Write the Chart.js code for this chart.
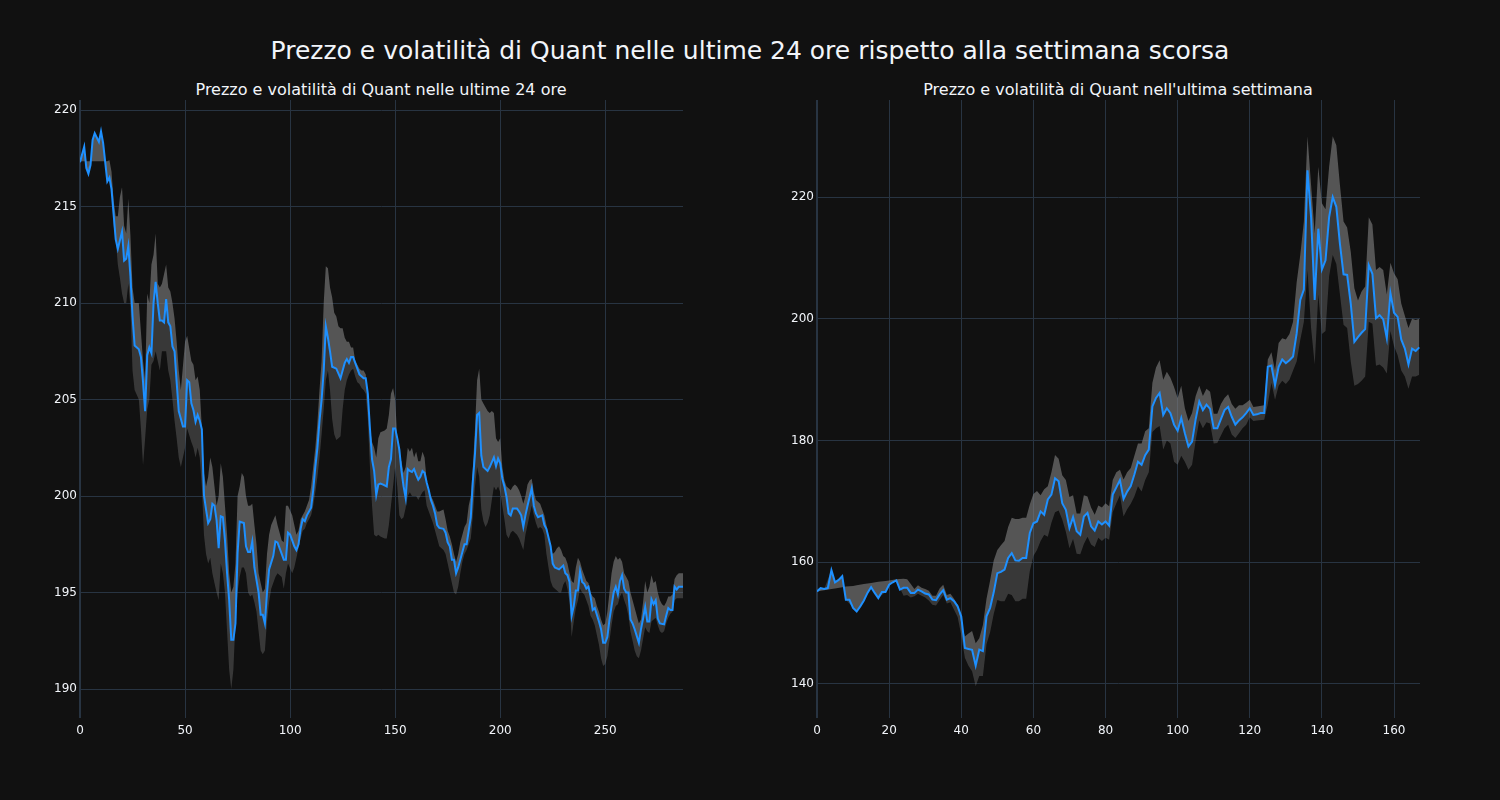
<!DOCTYPE html>
<html>
<head>
<meta charset="utf-8">
<title>Prezzo e volatilità di Quant</title>
<script src="https://cdn.jsdelivr.net/npm/chart.js@4.4.1/dist/chart.umd.min.js"></script>
<style>
  body { margin: 0; background: #111111; }
  #wrap { position: relative; width: 1500px; height: 800px; background: #111111; font-family: "DejaVu Sans", sans-serif; color: #f2f5fa; }
  canvas { position: absolute; top: 0; }
  .title { position: absolute; transform: translate(-50%, -50%); white-space: nowrap; }
</style>
</head>
<body>
<div id="wrap">
  <div class="title" style="left:750px; top:50px; font-size:25px;">Prezzo e volatilità di Quant nelle ultime 24 ore rispetto alla settimana scorsa</div>
  <div class="title" style="left:381px; top:89px; font-size:16px;">Prezzo e volatilità di Quant nelle ultime 24 ore</div>
  <div class="title" style="left:1118px; top:89px; font-size:16px;">Prezzo e volatilità di Quant nell'ultima settimana</div>
  <canvas id="day" width="750" height="800" style="left:0px;"></canvas>
  <canvas id="week" width="750" height="800" style="left:750px;"></canvas>
</div>
<script type="text/javascript">
// ---- ultime 24 ore (5-minute steps) ----
var x24 = [
  0, 2, 3, 4, 5, 6, 7, 9, 10, 11,
  13, 14, 15, 17, 18, 20, 21, 22, 23, 24,
  25, 26, 28, 29, 30, 31, 32, 33, 34, 35,
  36, 37, 38, 39, 40, 41, 42, 43, 44, 45,
  46, 47, 49, 50, 51, 52, 53, 54, 55, 56,
  57, 58, 59, 60, 61, 62, 63, 64, 65, 66,
  67, 68, 69, 70, 71, 72, 73, 74, 75, 76,
  78, 79, 80, 81, 82, 83, 85, 86, 87, 88,
  89, 90, 92, 93, 94, 96, 97, 98, 99, 100,
  101, 102, 103, 104, 105, 106, 107, 108, 110, 111,
  112, 113, 114, 115, 116, 117, 118, 119, 120, 122,
  124, 125, 126, 127, 128, 129, 130, 131, 132, 133,
  135, 136, 137, 138, 139, 140, 141, 142, 143, 144,
  146, 147, 148, 149, 150, 151, 152, 153, 154, 155,
  156, 157, 158, 159, 160, 161, 162, 163, 164, 165,
  166, 167, 168, 169, 170, 171, 173, 174, 175, 176,
  177, 178, 179, 180, 181, 182, 183, 184, 185, 186,
  187, 188, 189, 190, 191, 192, 194, 195, 197, 198,
  199, 200, 201, 202, 203, 204, 205, 206, 208, 209,
  210, 211, 212, 213, 215, 216, 217, 218, 220, 221,
  222, 224, 225, 226, 228, 230, 231, 232, 233, 234,
  235, 236, 237, 238, 239, 240, 241, 242, 243, 244,
  245, 247, 248, 249, 250, 251, 252, 253, 254, 255,
  256, 257, 258, 259, 260, 261, 262, 263, 264, 266,
  267, 268, 269, 270, 271, 272, 273, 274, 275, 276,
  278, 279, 280, 281, 282, 283, 284, 285, 287
];
var price24 = [
  217.3, 218.1, 217.0, 216.7, 217.15, 218.45, 218.8, 218.35, 218.9, 218.3,
  216.3, 216.5, 215.9, 213.3, 212.8, 213.7, 212.2, 212.3, 212.95, 211.4,
  209.3, 207.8, 207.6, 207.2, 205.9, 204.4, 207.3, 207.7, 207.4, 210.0,
  211.1, 210.0, 209.1, 209.1, 209.0, 210.2, 209.0, 208.8, 207.75, 207.5,
  205.9, 204.4, 203.6, 203.6, 206.0, 205.9, 204.8, 204.45, 203.85, 204.2,
  203.9, 203.45, 200.05, 199.3, 198.6, 198.8, 199.6, 199.5, 198.75, 197.3,
  198.95, 198.9, 197.7, 196.0, 194.6, 192.55, 192.55, 193.4, 197.05, 198.67,
  198.6, 197.4, 197.1, 197.1, 197.65, 196.3, 195.0, 193.85, 193.85, 193.4,
  195.0, 196.2, 196.9, 197.65, 197.6, 197.0, 196.7, 196.7, 198.1, 198.0,
  197.7, 197.4, 197.2, 197.5, 198.3, 198.8, 198.7, 199.0, 199.4, 200.3,
  201.5, 202.5, 203.9, 205.0, 206.5, 208.8, 208.2, 207.5, 206.7, 206.6,
  206.1, 206.5, 206.9, 207.1, 206.9, 207.2, 207.2, 206.9, 206.6, 206.3,
  206.1, 206.1, 205.3, 203.5, 201.9, 201.3, 200.05, 200.6, 200.65, 200.6,
  200.5, 201.5, 201.9, 203.5, 203.5, 203.0, 202.4, 201.3, 200.5, 199.9,
  201.4, 201.3, 201.25, 201.4, 201.1, 200.85, 201.0, 201.3, 201.2, 200.7,
  200.3, 199.8, 199.5, 199.1, 198.5, 198.35, 198.3, 198.1, 197.6, 197.4,
  196.7, 196.7, 196.0, 196.3, 196.7, 197.1, 197.5, 197.5, 198.2, 198.9,
  200.8, 202.2, 204.2, 204.3, 202.1, 201.5, 201.3, 201.5, 202.0, 201.55,
  201.95, 201.7, 200.9, 200.5, 199.95, 199.1, 199.0, 199.35, 199.35, 199.2,
  199.0, 198.4, 199.0, 199.5, 200.4, 199.5, 199.1, 198.9, 199.0, 198.5,
  198.3, 197.4, 196.5, 196.3, 196.2, 196.4, 196.0, 195.9, 195.55, 193.8,
  194.3, 195.1, 195.1, 196.1, 195.55, 195.45, 195.2, 195.3, 194.8, 194.1,
  194.2, 193.5, 193.1, 192.4, 192.4, 192.7, 193.6, 194.3, 195.0, 195.3,
  194.9, 195.6, 195.9, 195.2, 195.0, 195.0, 193.6, 193.4, 193.1, 192.4,
  193.1, 193.65, 194.25, 193.5, 193.5, 194.65, 194.4, 194.6, 193.65, 193.4,
  193.35, 193.8, 194.2, 194.1, 194.1, 195.3, 195.15, 195.3, 195.3
];
var bandX24 = [
  0, 2, 3, 5, 6, 7, 9, 10, 11, 12,
  13, 14, 15, 16, 17, 18, 19, 20, 21, 22,
  23, 24, 25, 26, 28, 29, 30, 31, 32, 33,
  34, 35, 36, 37, 38, 39, 41, 42, 43, 44,
  45, 46, 47, 48, 50, 51, 53, 54, 55, 56,
  57, 58, 59, 60, 61, 62, 63, 64, 65, 66,
  67, 68, 69, 70, 71, 72, 73, 74, 75, 76,
  77, 78, 79, 80, 81, 82, 83, 84, 85, 86,
  87, 88, 89, 90, 91, 93, 94, 96, 97, 98,
  99, 101, 102, 103, 104, 105, 106, 107, 108, 109,
  110, 111, 112, 113, 114, 115, 116, 117, 118, 119,
  120, 121, 122, 123, 124, 125, 126, 127, 128, 129,
  130, 131, 132, 133, 134, 135, 136, 137, 138, 139,
  140, 141, 142, 143, 145, 146, 147, 148, 149, 150,
  151, 152, 153, 154, 155, 156, 157, 158, 159, 160,
  161, 162, 163, 164, 165, 166, 168, 170, 171, 173,
  174, 175, 176, 177, 178, 179, 180, 181, 182, 183,
  184, 185, 186, 187, 188, 189, 190, 191, 192, 193,
  194, 195, 196, 197, 198, 199, 200, 201, 202, 203,
  204, 205, 206, 207, 208, 209, 210, 211, 212, 213,
  214, 215, 216, 217, 218, 219, 220, 221, 222, 223,
  224, 225, 226, 227, 228, 229, 230, 231, 232, 233,
  234, 235, 236, 237, 238, 239, 240, 241, 242, 243,
  244, 245, 246, 247, 248, 249, 250, 251, 252, 253,
  254, 255, 256, 257, 258, 259, 260, 261, 262, 263,
  264, 265, 266, 267, 268, 269, 270, 271, 272, 273,
  274, 275, 276, 277, 278, 279, 280, 281, 282, 283,
  284, 285, 287
];
var upper24 = [
  217.35, 217.35, 217.35, 217.35, 217.35, 217.35, 217.35, 217.35, 217.35, 217.35,
  217.35, 217.4, 216.8, 215.3, 214.5, 214.5, 215.5, 216.0, 214.0, 213.6,
  215.4, 213.5, 210.8, 210.0, 210.0, 208.5, 207.0, 206.0, 210.5, 210.0,
  212.0, 212.5, 213.6, 211.0, 210.8, 211.0, 212.0, 210.8, 210.6, 210.0,
  209.2, 208.0, 206.5, 205.5, 208.0, 208.3, 207.0, 206.8, 206.0, 206.2,
  205.5, 203.5, 201.2, 200.5, 201.0, 202.0, 201.5, 200.5, 199.5, 200.0,
  201.7, 201.0, 199.5, 198.0, 196.0, 195.0, 195.3, 196.5, 200.0, 200.5,
  201.2, 201.0, 200.0, 199.5, 199.5, 199.6, 198.5, 197.5, 196.0, 195.5,
  195.0, 195.2, 197.0, 198.0, 198.5, 199.0, 198.5, 197.7, 197.6, 199.5,
  199.5, 199.0, 198.5, 198.0, 198.2, 198.8, 199.0, 199.2, 199.5, 199.8,
  200.5, 201.5, 202.5, 203.8, 205.5, 207.0, 210.0, 211.9, 211.8, 210.8,
  210.3, 209.5, 209.3, 208.8, 208.7, 208.7, 208.2, 208.0, 208.0, 207.7,
  207.7, 207.0, 206.8, 206.6, 206.5, 206.5, 206.3, 205.0, 203.5, 202.8,
  202.5, 202.0, 203.0, 203.3, 203.4, 203.5, 204.2, 205.3, 205.6, 205.0,
  203.0, 202.0, 201.8, 201.2, 201.5, 202.5, 202.3, 202.5, 202.0, 202.3,
  201.8, 201.8, 202.3, 202.0, 200.8, 200.2, 199.8, 199.2, 199.2, 199.3,
  198.8, 198.2, 197.9, 197.5, 197.0, 196.6, 197.0, 197.6, 198.0, 198.4,
  198.6, 199.5, 200.0, 201.5, 203.5, 206.0, 206.6, 205.0, 204.8, 204.6,
  204.4, 204.3, 204.4, 204.3, 203.0, 202.8, 203.0, 201.5, 200.8, 200.5,
  200.4, 200.3, 200.5, 200.6, 200.5, 200.3, 200.0, 199.6, 200.0, 200.6,
  200.8, 200.9, 200.2, 199.8, 199.7, 199.6, 199.3, 199.0, 198.5, 197.8,
  197.3, 197.0, 197.1, 197.3, 197.4, 197.2, 196.9, 196.8, 196.5, 196.0,
  195.6, 195.5, 196.3, 196.8, 196.6, 196.2, 195.9, 195.6, 195.5, 195.0,
  194.8, 194.7, 194.3, 194.0, 193.6, 193.3, 193.4, 194.0, 195.0, 196.0,
  196.6, 196.9, 196.7, 196.8, 196.6, 196.0, 195.8, 195.6, 195.0, 194.6,
  194.2, 193.8, 193.4, 193.6, 194.5, 195.6, 195.0, 195.3, 195.9, 195.5,
  195.6, 195.0, 194.6, 194.4, 194.3, 194.5, 194.8, 194.8, 194.9, 195.7,
  195.9, 196.0, 196.0
];
var lower24 = [
  217.3, 218.1, 217.0, 217.15, 218.45, 218.8, 218.35, 218.9, 218.3, 217.35,
  216.3, 216.5, 215.9, 214.0, 213.3, 212.0, 211.3, 210.5, 210.0, 210.0,
  211.0, 209.8, 206.5, 205.5, 205.0, 203.5, 201.6, 203.0, 204.5, 205.0,
  206.8, 207.0, 207.5, 207.0, 206.5, 207.5, 207.5, 206.5, 206.0, 205.0,
  203.9, 203.0, 202.0, 201.5, 202.5, 203.5, 202.8, 202.5, 202.0, 202.5,
  202.0, 200.5, 198.0, 197.0, 196.5, 196.8, 196.0, 195.5, 195.0, 194.6,
  196.5, 196.0, 195.0, 193.0, 191.0, 190.0, 191.0, 193.5, 195.0, 195.8,
  196.3, 196.3, 196.0, 195.0, 194.8, 194.9, 194.5, 194.0, 193.0, 192.0,
  191.8, 192.0, 193.5, 194.5, 195.2, 195.8, 196.0, 195.8, 195.2, 196.0,
  196.5, 196.0, 196.3, 196.8, 197.3, 197.8, 198.2, 198.3, 198.6, 198.8,
  199.0, 199.5, 200.2, 201.0, 202.0, 203.2, 204.5, 206.0, 206.5, 205.5,
  204.0, 203.2, 202.9, 203.0, 203.1, 204.5, 205.5, 206.0, 206.3, 206.5,
  206.6, 206.2, 205.9, 205.8, 205.6, 205.5, 205.3, 204.0, 201.5, 199.5,
  198.0, 197.9, 198.0, 197.9, 197.8, 197.8, 198.5, 199.5, 200.5, 201.5,
  200.5, 199.0, 198.8, 198.9, 199.4, 200.0, 200.2, 200.0, 200.0, 200.0,
  199.8, 200.0, 200.2, 200.3, 199.5, 199.2, 198.6, 197.8, 197.4, 197.2,
  197.0, 196.5, 196.0, 195.5, 195.0, 194.9, 195.3, 196.0, 196.6, 197.0,
  197.2, 197.5, 197.8, 199.0, 200.5, 201.5, 201.0, 199.3, 198.7, 198.4,
  198.6, 199.0, 199.8, 200.5, 200.3, 200.5, 200.2, 199.5, 198.8, 198.0,
  197.8, 198.1, 198.2, 198.1, 198.0, 197.8, 197.5, 197.2, 198.0, 198.5,
  199.0, 199.5, 199.0, 198.6, 198.3, 198.4, 198.3, 198.0, 197.0, 196.3,
  195.6, 195.3, 195.2, 195.1, 195.0, 195.0, 195.4, 195.6, 195.2, 194.5,
  192.7, 193.5, 194.2, 194.6, 195.2, 195.0, 194.9, 194.6, 194.3, 193.8,
  193.6, 193.3, 192.8, 192.3, 191.6, 191.2, 191.3, 191.7, 192.5, 193.3,
  194.0, 194.3, 194.4, 194.8, 195.0, 194.6, 194.3, 193.8, 193.0, 192.5,
  192.0, 191.7, 191.6, 192.0, 192.6, 193.2, 193.0, 192.9, 193.5, 193.6,
  193.7, 193.3, 193.0, 192.9, 193.0, 193.4, 193.7, 193.9, 194.0, 194.6,
  194.7, 194.7, 194.7
];
var ticksX24 = [0, 50, 100, 150, 200, 250];
var ticksY24 = [190, 195, 200, 205, 210, 215, 220];

// ---- ultima settimana (hourly) ----
var priceWeek = [
  155.2, 155.75, 155.6, 155.75, 158.7, 156.7, 157.1, 157.7, 153.85, 153.85,
  152.5, 151.9, 152.75, 153.7, 154.95, 155.9, 154.95, 154.1, 155.1, 155.1,
  156.3, 156.7, 157.0, 155.5, 155.8, 155.8, 154.95, 154.95, 155.5, 155.2,
  154.85, 154.7, 153.85, 153.75, 154.7, 155.4, 153.85, 154.1, 153.6, 152.75,
  151.1, 145.9, 145.75, 145.6, 143.0, 145.65, 145.4, 151.1, 152.5, 155.05,
  158.2, 158.4, 158.8, 160.7, 161.5, 160.3, 160.25, 160.7, 160.7, 164.8,
  166.4, 166.7, 168.35, 167.8, 170.3, 171.1, 173.8, 173.3, 169.7, 168.6,
  165.6, 167.4, 165.1, 164.5, 167.5, 168.1, 165.9, 165.2, 166.7, 166.2,
  166.7, 166.0, 171.1, 172.3, 173.5, 170.4, 171.6, 172.5, 174.4, 176.5,
  176.0, 177.6, 178.5, 185.6, 187.0, 187.8, 184.2, 185.3, 184.5, 182.6,
  181.6, 183.7, 181.2, 179.0, 179.8, 183.5, 186.4, 185.0, 185.9, 185.2,
  182.0, 182.0, 183.5, 185.0, 185.5, 183.9, 182.6, 183.3, 183.8, 184.5,
  185.3, 184.2, 184.3, 184.5, 184.5, 192.1, 192.3, 189.1, 192.1, 193.3,
  192.7, 193.2, 193.8, 197.6, 203.1, 204.8, 224.4, 216.7, 203.1, 214.8,
  208.1, 209.6, 216.7, 220.0, 218.4, 212.3, 207.3, 207.2, 202.5, 196.2,
  197.0, 197.7, 198.3, 208.8, 207.4, 200.1, 200.6, 199.9, 196.8, 204.2,
  201.0, 200.3, 196.6, 195.1, 192.5, 195.1, 194.7, 195.3
];
var xWeek = priceWeek.map(function (v, i) { return i; });
var bandXWeek = [
  0, 2, 4, 5, 7, 8, 10, 11, 13, 15,
  17, 19, 20, 22, 24, 25, 26, 27, 28, 29,
  30, 31, 32, 33, 34, 35, 36, 37, 38, 39,
  40, 41, 42, 43, 44, 45, 46, 47, 48, 49,
  50, 51, 52, 53, 54, 55, 56, 57, 58, 59,
  60, 61, 62, 63, 64, 65, 66, 67, 68, 69,
  70, 71, 72, 73, 74, 75, 76, 77, 78, 79,
  80, 81, 82, 83, 84, 85, 86, 87, 88, 89,
  90, 91, 92, 93, 94, 95, 96, 97, 98, 99,
  100, 101, 102, 103, 104, 105, 106, 107, 108, 109,
  110, 111, 112, 113, 114, 115, 116, 117, 118, 119,
  120, 121, 122, 124, 125, 126, 127, 128, 129, 130,
  131, 132, 133, 134, 135, 136, 137, 138, 139, 140,
  141, 142, 143, 144, 145, 146, 147, 148, 149, 150,
  151, 152, 153, 154, 155, 156, 157, 158, 159, 160,
  161, 162, 163, 164, 165, 166, 167
];
var upperWeek = [
  155.2, 155.4, 155.6, 155.7, 155.9, 156.0, 156.1, 156.2, 156.4, 156.6,
  156.8, 156.9, 157.0, 157.2, 157.3, 157.2, 156.4, 155.6, 156.2, 155.8,
  155.6, 155.3, 154.5, 154.5, 155.7, 156.3, 154.6, 154.8, 154.0, 153.0,
  150.0, 147.8, 148.3, 148.7, 146.7, 147.5, 149.7, 154.0, 157.0, 160.3,
  162.0, 162.8, 163.5, 165.8, 167.3, 167.1, 167.1, 167.3, 167.3, 169.5,
  171.2, 171.7, 171.0, 172.0, 172.5, 174.8, 177.6, 177.0, 174.3, 173.5,
  170.7, 171.0, 168.0, 168.0, 171.0, 170.8, 169.0, 167.8, 169.3, 169.0,
  169.7, 169.2, 173.5, 174.8, 175.2, 173.6, 174.8, 175.5, 177.5, 179.5,
  179.5, 181.5, 182.0, 189.5, 192.0, 193.2, 190.0, 191.3, 190.3, 188.8,
  187.0, 189.0, 185.3, 183.2, 184.5, 187.3, 189.0, 187.3, 188.5, 188.0,
  184.4, 184.4, 186.0, 187.0, 187.6, 186.0, 185.2, 185.8, 185.8, 186.2,
  186.7, 185.5, 185.6, 185.8, 193.3, 194.5, 191.5, 196.0, 196.8, 196.6,
  197.5, 199.5, 206.0, 210.5, 216.0, 230.0, 222.0, 214.0, 225.0, 219.0,
  218.0, 225.0, 230.0, 228.5, 222.0, 216.0, 215.0, 211.0, 205.0, 203.0,
  204.5, 205.3, 216.7, 215.5, 208.0, 208.5, 208.0, 204.0, 209.2, 207.5,
  206.5, 202.5, 200.5, 198.5, 200.0, 199.8, 200.0
];
var lowerWeek = [
  155.2, 155.6, 158.7, 156.7, 157.7, 153.85, 152.5, 151.9, 153.7, 155.9,
  154.1, 155.1, 156.3, 157.0, 154.5, 154.6, 154.2, 154.4, 154.8, 154.5,
  154.2, 153.7, 153.0, 152.9, 153.8, 154.6, 153.2, 153.4, 152.2, 151.0,
  148.0, 144.3, 143.0, 142.1, 139.6, 141.3, 141.3, 146.5, 148.5, 151.5,
  153.8, 153.6, 153.6, 154.8, 154.6, 153.6, 153.6, 154.0, 154.0, 158.5,
  161.0, 162.0, 163.5, 164.5, 164.2, 166.5, 168.2, 168.5, 167.0, 165.0,
  162.3, 163.8, 161.4, 161.3, 163.0, 164.2, 162.9, 162.5, 164.0, 163.5,
  164.0, 163.7, 168.2, 169.7, 171.0, 167.5, 168.7, 169.6, 170.8, 172.5,
  171.6, 173.5, 174.8, 181.4, 182.0, 182.4, 178.5, 180.0, 179.5, 176.5,
  176.0, 177.5, 176.5, 175.2, 176.0, 180.0, 183.3, 182.0, 183.0, 182.8,
  179.5, 179.6, 180.8, 182.0, 182.6, 181.0, 180.4, 181.2, 182.0, 182.6,
  183.8, 183.2, 183.3, 183.4, 186.0, 189.5, 186.7, 189.0, 189.8, 189.3,
  190.0, 191.5, 193.0, 196.5, 199.5, 208.0, 198.5, 192.5, 204.0, 197.5,
  198.0, 207.0, 210.5, 209.0, 204.0, 199.0, 198.5, 193.0, 189.0, 189.3,
  189.8, 190.5, 199.5, 199.2, 192.3, 192.5, 192.0, 191.0, 198.0, 195.5,
  194.0, 191.5, 190.5, 188.5, 190.5, 190.5, 190.8
];
var ticksXWeek = [0, 20, 40, 60, 80, 100, 120, 140, 160];
var ticksYWeek = [140, 160, 180, 200, 220];

var textColor = '#f2f5fa';
var gridColor = '#283442';
var lineColor = 'rgb(30,144,255)';
var bandLight = 'rgba(128,128,128,0.62)';
var bandDark = 'rgba(128,128,128,0.36)';

Chart.defaults.font.family = '"DejaVu Sans", sans-serif';
Chart.defaults.font.size = 12;
Chart.defaults.color = textColor;

function pts(xs, ys) {
  var out = [];
  for (var i = 0; i < xs.length; i++) out.push({ x: xs[i], y: ys[i] });
  return out;
}

function makeChart(id, d) {
  new Chart(document.getElementById(id), {
    type: 'line',
    data: {
      datasets: [
        { data: pts(d.x, d.price), borderColor: lineColor, borderWidth: 2, pointRadius: 0, fill: false, tension: 0 },
        { data: pts(d.bandX, d.upper), borderWidth: 0, borderColor: 'rgba(0,0,0,0)', pointRadius: 0, tension: 0,
          fill: { target: 0, above: bandLight, below: bandLight } },
        { data: pts(d.bandX, d.lower), borderWidth: 0, borderColor: 'rgba(0,0,0,0)', pointRadius: 0, tension: 0,
          fill: { target: 0, above: bandDark, below: bandDark } }
      ]
    },
    options: {
      responsive: false,
      animation: false,
      devicePixelRatio: 1,
      layout: { padding: d.padding },
      plugins: { legend: { display: false }, tooltip: { enabled: false } },
      scales: {
        x: {
          type: 'linear', min: d.xMin, max: d.xMax,
          border: { display: false },
          grid: { color: gridColor, drawTicks: false,
                  lineWidth: function (c) { return c.tick && c.tick.value === 0 ? 2 : 1; } },
          ticks: { color: textColor, padding: 6, maxRotation: 0 },
          afterBuildTicks: function (s) { s.ticks = d.ticksX.map(function (v) { return { value: v }; }); },
          afterFit: function (s) { s.height = 30; }
        },
        y: {
          min: d.yMin, max: d.yMax,
          border: { display: false },
          grid: { color: gridColor, drawTicks: false },
          ticks: { color: textColor, padding: 3 },
          afterBuildTicks: function (s) { s.ticks = d.ticksY.map(function (v) { return { value: v }; }); },
          afterFit: function (s) { s.width = d.yWidth; }
        }
      }
    }
  });
}

makeChart('day', {
  x: x24, price: price24, bandX: bandX24, upper: upper24, lower: lower24,
  ticksX: ticksX24, ticksY: ticksY24,
  xMin: 0, xMax: 287, yMin: 188.5, yMax: 220.52,
  yWidth: 40, padding: { left: 40, right: 67, top: 100, bottom: 52 }
});

makeChart('week', {
  x: xWeek, price: priceWeek, bandX: bandXWeek, upper: upperWeek, lower: lowerWeek,
  ticksX: ticksXWeek, ticksY: ticksYWeek,
  xMin: 0, xMax: 167.2, yMin: 134.4, yMax: 235.95,
  yWidth: 45, padding: { left: 22, right: 80, top: 100, bottom: 52 }
});
</script>
</body>
</html>
